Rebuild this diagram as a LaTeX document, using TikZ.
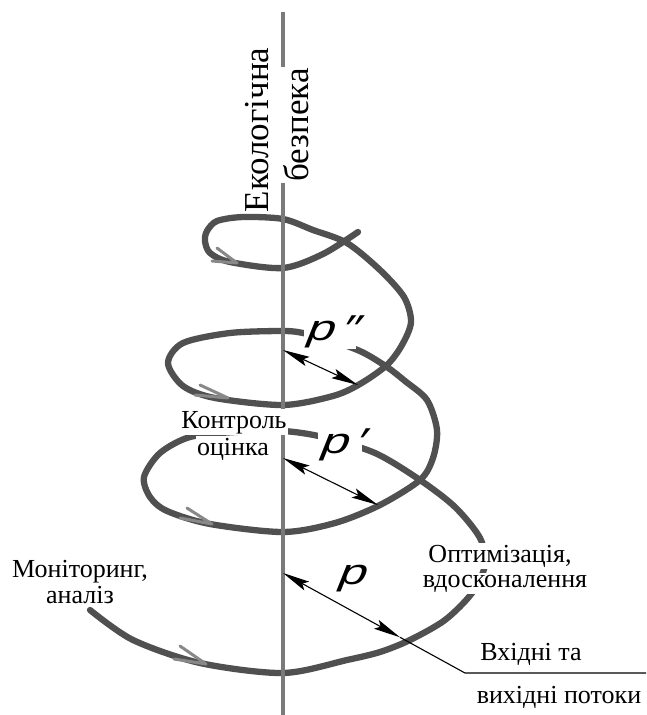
\documentclass[tikz,border=0pt]{standalone}
\usepackage{fontspec}
\usepackage{graphicx}
\setmainfont{Liberation Serif}
\newfontfamily\pfont[FakeSlant=0.4,FakeStretch=1.4]{Liberation Sans}
\usetikzlibrary{arrows.meta,calc}
\definecolor{spiralgrey}{HTML}{505050}
\definecolor{axisgrey}{HTML}{7A7A7A}
\definecolor{barbgrey}{HTML}{888888}
\begin{document}
\begin{tikzpicture}[x=1pt,y=-1pt,
  spiral/.style={draw=spiralgrey, line width=6.3pt, line cap=round, line join=round},
  axisline/.style={draw=axisgrey, line width=3.3pt},
  barb/.style={draw=barbgrey, line width=3pt, line cap=round, line join=round},
  leader/.style={draw=black, line width=1.1pt},
  dimarrow/.style={leader, {Stealth[length=27pt,width=10pt,inset=5pt]}-{Stealth[length=27pt,width=10pt,inset=5pt]}},
  lbl/.style={font=\fontsize{26}{30}\selectfont, inner sep=1.5pt, anchor=base},
  masked/.style={fill=white},
  vlbl/.style={font=\fontsize{35}{40}\selectfont, inner sep=1.5pt, rotate=90, anchor=base},
  plabel/.style={font=\pfont\fontsize{36}{40}\selectfont, fill=white, inner xsep=0pt, inner ysep=2pt, anchor=base}
]
\useasboundingbox (0,0) rectangle (646,715);

% spiral
\draw[spiral] plot[smooth, tension=0.5] coordinates {
(90,610) (133,640) (200,663) (283,673) (347,660) (380,652) (410,640) (445,620) (472,593) (485,565) (480,538) (455,507) (420,480) (375,453) (323,437) (283,431) (235,432) (190,437) (160,453) (144,477) (150,497) (167,511) (210,524) (283,532) (335,523) (380,505) (420,480) (433,458) (437,430) (427,400) (405,381) (387,367) (362,352) (330,340) (303,333) (283,331) (230,333) (183,343) (168,363) (183,386) (215,398) (283,405) (333,396) (360,384) (387,365) (402,345) (411,322) (404,297) (380,270) (347,243) (313,230) (283,219) (243,217) (217,221) (207,231) (205,241) (210,253) (230,262) (283,268) (323,254) (358,232)
};

% direction barbs on the spiral
\coordinate (t0) at (206,664); \coordinate (t0a) at (180,646); \coordinate (t0b) at (174,659);
\coordinate (t1) at (212,524); \coordinate (t1a) at (187,508); \coordinate (t1b) at (180,518);
\coordinate (t2) at (228,398); \coordinate (t2a) at (200,385); \coordinate (t2b) at (195,395);
\coordinate (t3) at (237,263); \coordinate (t3a) at (217,248); \coordinate (t3b) at (212,261);
\draw[barb] (t0a) -- (t0) -- (t0b);
\draw[barb] (t1a) -- (t1) -- (t1b);
\draw[barb] (t2a) -- (t2) -- (t2b);
\draw[barb] (t3a) -- (t3) -- (t3b);

% axis
\coordinate (axtop) at (283,12);
\coordinate (axbot) at (283,715);
\draw[axisline] (axtop) -- (axbot);

% vertical title
\node[vlbl] (eko) at (268,130) {Екологічна};
\node[vlbl, masked] (bez) at (308,125) {безпека};

% labels
\node[lbl, masked] (kon) at (234,428) {Контроль};
\node[lbl, masked] (ots) at (233,455) {оцінка};
\node[lbl] (mon) at (80,577) {Моніторинг,};
\node[lbl] (ana) at (80,603) {аналіз};
\node[lbl, masked] (opt) at (500,562) {Оптимізація,};
\node[lbl, masked] (vdo) at (505,587) {вдосконалення};
\node[lbl] (vkh) at (531,660) {Вхідні та};
\node[lbl] (vyk) at (559,703) {вихідні потоки};

% pitch labels
\node[plabel] (pdd) at (330,340) {p\,″};
\node[plabel] (pd) at (340,453) {p\,′};
\node[plabel] (pp) at (350,584) {p};

% pitch dimension arrows
\coordinate (d2a) at (283,350); \coordinate (d2b) at (358,385);
\coordinate (d1a) at (283,458); \coordinate (d1b) at (378,505);
\coordinate (d0a) at (283,573); \coordinate (d0c) at (465,673);
\coordinate (d0b) at ($(d0a)!0.643!(d0c)$);
\coordinate (d0d) at (646,673);
\draw[dimarrow] (d2a) -- (d2b);
\draw[dimarrow] (d1a) -- (d1b);
\draw[dimarrow] (d0a) -- (d0b);
\draw[leader] (d0b) -- (d0c) -- (d0d);
\end{tikzpicture}
\end{document}
